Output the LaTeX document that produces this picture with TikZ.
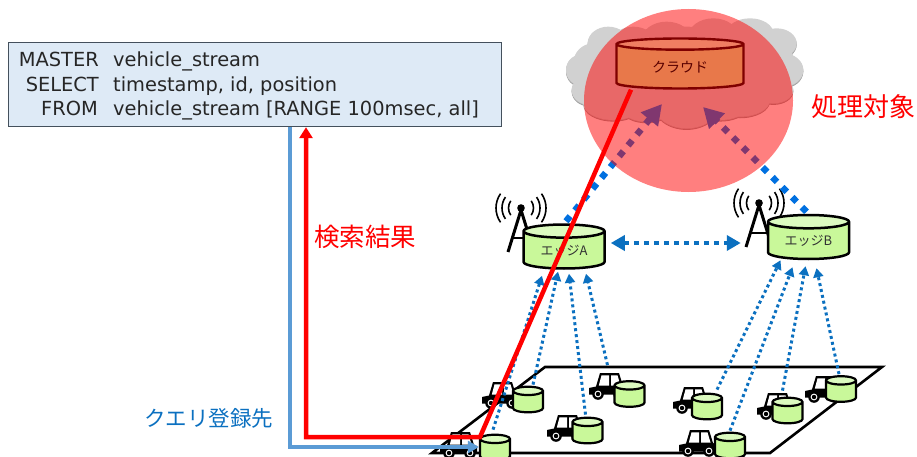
\documentclass[tikz,border=0pt]{standalone}
\usepackage{fontspec}
\setmainfont{DejaVu Sans}
\newfontfamily\cjk{Noto Sans CJK JP}
\usetikzlibrary{shapes.geometric,arrows.meta}
\definecolor{sqlfill}{HTML}{DEEAF6}
\definecolor{sqlline}{HTML}{44505C}
\definecolor{linkblue}{HTML}{0070E0}
\definecolor{radioblue}{HTML}{0B70C0}
\definecolor{queryblue}{HTML}{5B9BD5}
\definecolor{storefill}{HTML}{C9F89A}
\definecolor{storetop}{HTML}{DCFBC0}
\definecolor{cloudfill}{HTML}{E8784A}
\definecolor{cloudtop}{HTML}{F07E62}
\definecolor{clouddark}{HTML}{7F0000}
\newcommand{\vphant}{\phantom{\rule{26pt}{12pt}}}
\tikzset{
  store/.style={cylinder, shape border rotate=90, anchor=shape center, draw=black, line width=#1, inner sep=0pt,
    cylinder uses custom fill, cylinder body fill=storefill, cylinder end fill=storetop},
  vstore/.style={store=2.2pt, minimum width=30pt, minimum height=23pt, aspect=0.32},
  edgestore/.style={store=2.5pt, minimum width=81pt, minimum height=44pt, aspect=0.28, font=\cjk\fontsize{13}{13}\selectfont, text=black!80},
  topstore/.style={cylinder, shape border rotate=90, anchor=shape center, draw=clouddark, line width=2.4pt, inner sep=0pt,
    cylinder uses custom fill, cylinder body fill=cloudfill, cylinder end fill=cloudtop,
    minimum width=127pt, minimum height=50pt, aspect=0.2, font=\cjk\fontsize{14}{14}\selectfont, text=clouddark!70!black},
  linkarrow/.style={draw=linkblue, line width=6.5pt, dash pattern=on 6.5pt off 7.5pt, -{Triangle[length=20pt,width=21pt,fill=linkblue]}},
  peerarrow/.style={draw=radioblue, line width=4.5pt, dash pattern=on 5pt off 5pt, {Triangle[length=14pt,width=15pt,fill=radioblue]}-{Triangle[length=14pt,width=15pt,fill=radioblue]}},
  radioarrow/.style={draw=radioblue, line width=3pt, dash pattern=on 3pt off 3pt, -{Triangle[length=9pt,width=10pt,fill=radioblue]}},
  sqlkey/.style={anchor=base east, font=\fontsize{19.4}{19.4}\selectfont, inner sep=0pt, text=black!85},
  sqlval/.style={anchor=base west, font=\fontsize{19.4}{19.4}\selectfont, inner sep=0pt, text=black!85},
  redlabel/.style={font=\cjk\fontsize{25.5}{25.5}\selectfont, text=red, inner sep=0pt},
  car/.pic={
    \fill[black] (0,15) -- (7,13.5) -- (11,0) -- (30,0) -- (34,13) -- (37,14) -- (37,21.5) -- (0,21.5) -- cycle;
    \fill[white] (12.5,2.4) -- (20,2.4) -- (20,12.5) -- (9.8,12.5) -- cycle;
    \fill[white] (22,2.4) -- (28.5,2.4) -- (31.5,12.5) -- (22,12.5) -- cycle;
    \fill[black] (9,21) circle (5.8pt);
    \fill[white] (9,21) circle (3.4pt);
    \fill[black] (9,21) circle (2.2pt);
    \fill[black] (30,21) circle (5.8pt);
    \fill[white] (30,21) circle (3.4pt);
    \fill[black] (30,21) circle (2.2pt);
  },
  tower/.pic={
    \draw[black,line width=3pt,line join=miter] (-13,44) -- (0,2) -- (13,44);
    \draw[black,line width=2.4pt] (-8.5,30) -- (8.5,30);
    \fill[black] (0,0) circle (3.8pt);
    \foreach \r in {12.5,19,25}{
      \draw[black,line width=1.6pt] (215:\r) arc[start angle=145,end angle=215,radius=\r pt];
      \draw[black,line width=1.6pt] (-35:\r) arc[start angle=35,end angle=-35,radius=\r pt];
    }
  }
}
\newcommand{\cloudbumps}{%
  \fill (300,210) ellipse (42 and 45);
  \fill (385,130) ellipse (62 and 50);
  \fill (330,270) ellipse (55 and 45);
  \fill (400,310) ellipse (90 and 50);
  \fill (620,310) ellipse (100 and 75);
  \fill (780,300) ellipse (90 and 50);
  \fill (880,270) ellipse (60 and 40);
  \fill (910,210) ellipse (60 and 50);
  \fill (890,130) ellipse (60 and 45);
  \fill (810,100) ellipse (70 and 45);
  \fill (700,110) ellipse (75 and 55);
  \fill (560,120) ellipse (75 and 55);
  \fill (460,120) ellipse (60 and 40);
  \fill (610,205) ellipse (305 and 125);
  \fill (340,190) ellipse (60 and 60);
  \fill (870,180) ellipse (70 and 70);
  \fill (500,330) ellipse (70 and 35);
  \fill (720,330) ellipse (70 and 30);
}
\begin{document}
\begin{tikzpicture}[x=1pt,y=-1pt]
\useasboundingbox (0,0) rectangle (917,457);
\clip (0,0) rectangle (917,457);

% ground plane
\draw[black,line width=2.6pt,line join=miter] (545,367) -- (882,367) -- (770,453) -- (432,453) -- cycle;

% cloud
\begin{scope}[shift={(480,0)},x=0.3333pt,y=-0.3333pt]
  \begin{scope}[fill=black!40,yshift=-1.6pt]\cloudbumps\end{scope}
  \begin{scope}[fill=black!28,yshift=-0.8pt]\cloudbumps\end{scope}
  \begin{scope}[fill=black!18]\cloudbumps\end{scope}
\end{scope}

% towers
\pic at (521,208) {tower};
\pic at (759,203) {tower};

% edge storage nodes
\node[edgestore] (edgeA) at (564,246.5) {エッジA};
\node[edgestore] (edgeB) at (808.5,237) {エッジB};

\coordinate (cloudfoot) at (680,89);

% edge-to-cloud links
\draw[linkarrow] ([shift={(2,-2)}]edgeA.north) -- ([shift={(-18,15)}]cloudfoot);
\draw[linkarrow] ([shift={(-2,-2)}]edgeB.north) -- ([shift={(23,18)}]cloudfoot);

% target region
\node[ellipse,fill=red,fill opacity=.5,minimum width=209pt,minimum height=183pt,inner sep=0pt] (target) at (688.5,100.5) {};

\node[topstore] (cloudstore) at (680,63.5) {クラウド};

% edge peer link
\draw[peerarrow] ([xshift=5pt]edgeA.east |- 0,243) -- ([xshift=-26pt]edgeB.west |- 0,243);

% vehicles
\pic at (482,382) {car};
\pic at (589,373) {car};
\pic at (547,415) {car};
\pic at (673,387) {car};
\pic at (757,393) {car};
\pic at (805,376) {car};
\pic at (679,430) {car};
\pic at (440,432) {car};
\node[vstore] (v1) at (528,399.5) {\vphant};
\node[vstore] (v2) at (629.5,394) {\vphant};
\node[vstore] (v3) at (587.5,430.5) {\vphant};
\node[vstore] (v4) at (707,406.5) {\vphant};
\node[vstore] (v5) at (787.5,410.5) {\vphant};
\node[vstore] (v6) at (841,389) {\vphant};
\node[vstore] (v7) at (730,445.5) {\vphant};
\node[vstore] (v8) at (495,447.5) {\vphant};

% radio links
\draw[radioarrow] ([shift={(-2,-4)}]v8.north) -- ([shift={(-22,6)}]edgeA.south);
\draw[radioarrow] ([shift={(5,-1)}]v1.north) -- ([shift={(-6,2)}]edgeA.south);
\draw[radioarrow] ([shift={(-2,-2)}]v3.north) -- ([shift={(5,4)}]edgeA.south);
\draw[radioarrow] ([shift={(-22,-15)}]v2.north) -- ([shift={(22,4)}]edgeA.south);
\draw[radioarrow] ([shift={(10,-3)}]v4.north) -- ([shift={(-28,0)}]edgeB.south);
\draw[radioarrow] ([shift={(0,-1)}]v7.north) -- ([shift={(-16,7)}]edgeB.south);
\draw[radioarrow] ([shift={(-5,-6)}]v5.north) -- ([shift={(-3,6)}]edgeB.south);
\draw[radioarrow] ([shift={(-2,-1)}]v6.north) -- ([shift={(8,8)}]edgeB.south);

% SQL box
\node[draw=sqlline,fill=sqlfill,line width=1.2pt,minimum width=493pt,minimum height=84pt,anchor=north west,inner sep=0pt] (query) at (8,42) {};
\node[sqlkey] (k1) at (99,67) {MASTER};
\node[sqlval] (t1) at (113,67) {vehicle\_stream};
\node[sqlkey] (k2) at (99,91.5) {SELECT};
\node[sqlval] (t2) at (113,91.5) {timestamp, id, position};
\node[sqlkey] (k3) at (98,115.5) {FROM};
\node[sqlval] (t3) at (113,115.5) {vehicle\_stream [RANGE 100msec, all]};

% query registration and result lines
\coordinate (qcorner) at (290,447);
\draw[draw=queryblue,line width=4pt,line join=miter,-{Triangle[length=11pt,width=12pt,fill=queryblue]}]
  (query.south -| qcorner) -- (qcorner) -- (v8.west |- qcorner);
\coordinate (rcorner) at (306,437);
\coordinate (rbend) at (480,437);
\draw[draw=red,line width=4.5pt,line join=miter,-{Triangle[length=11pt,width=13pt,fill=red]}]
  ([shift={(-49,0)}]cloudstore.south) -- (rbend) -- (rcorner) -- (rcorner |- query.south);

% labels
\node[redlabel,font=\cjk\fontsize{26}{26}\selectfont] (lt) at (863.5,107) {処理対象};
\node[redlabel] (lr) at (365,237) {検索結果};
\node[font=\cjk\fontsize{21.5}{21.5}\selectfont,text=radioblue,inner sep=0pt] (lq) at (208.5,418) {クエリ登録先};
\end{tikzpicture}
\end{document}
